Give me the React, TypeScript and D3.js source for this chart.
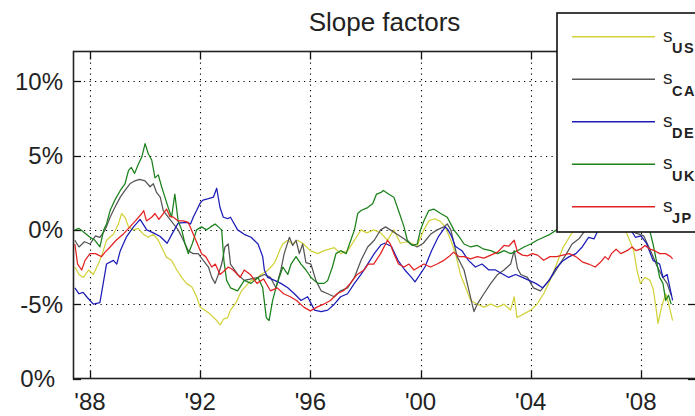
import React from "react";
import * as d3 from "d3";

const title = "Slope factors";
const xTicks = [1988, 1992, 1996, 2000, 2004, 2008];
const xTickLabels = ["'88", "'92", "'96", "'00", "'04", "'08"];
const yTicks = [10, 5, 0, -5, -10];
const yTickLabels = ["10%", "5%", "0%", "-5%", "0%"];
const xDomain = [1987.383, 2010];
const yDomain = [-10, 12];

const seriesNames = ["US", "CA", "DE", "UK", "JP"];
const seriesColors = ["#d2d23c", "#555555", "#1c1cb8", "#1a801a", "#e42222"];

const usData: [number, number][] = [
  [1987.45,-2.5],[1987.6,-3.0],[1987.76,-3.2],[1987.95,-2.7],[1988.12,-3.0],[1988.3,-2.3],[1988.45,-1.6],[1988.6,-0.7],[1988.85,-0.3],[1989.03,0.4],[1989.15,1.1],[1989.28,0.8],[1989.4,0.2],[1989.57,0],[1989.75,0.1],[1989.94,-0.3],[1990.12,-0.5],[1990.3,-0.3],[1990.48,-0.7],[1990.66,-1.4],[1990.78,-1.85],[1990.96,-2.05],[1991.15,-2.7],[1991.33,-3.2],[1991.5,-3.6],[1991.7,-3.85],[1991.87,-4.5],[1992.0,-5.2],[1992.17,-5.4],[1992.35,-5.65],[1992.6,-6.1],[1992.72,-6.4],[1992.85,-6.0],[1993.0,-5.9],[1993.1,-5.4],[1993.3,-4.9],[1993.5,-4.1],[1993.7,-3.7],[1993.85,-3.4],[1994.05,-3.3],[1994.2,-3.0],[1994.4,-2.8],[1994.57,-2.5],[1994.7,-2.2],[1994.8,-1.8],[1994.9,-1.3],[1995.0,-0.95],[1995.18,-0.7],[1995.35,-0.95],[1995.54,-0.7],[1995.75,-0.95],[1996.0,-1.4],[1996.27,-1.6],[1996.5,-1.4],[1996.87,-1.2],[1997.1,-1.6],[1997.36,-1.4],[1997.6,-0.7],[1997.84,0],[1998.05,-0.2],[1998.3,0],[1998.55,-0.2],[1998.8,-0.7],[1999.03,0],[1999.27,-0.9],[1999.5,-0.8],[1999.88,-1.05],[2000.12,0],[2000.3,0.6],[2000.5,0.75],[2000.7,0.6],[2000.9,0.2],[2001.1,-0.7],[2001.27,-1.6],[2001.45,-3.0],[2001.64,-3.9],[2001.82,-4.75],[2002.06,-5.0],[2002.3,-5.2],[2002.55,-5.0],[2002.8,-5.2],[2003.03,-5.0],[2003.27,-5.4],[2003.4,-4.5],[2003.5,-5.9],[2003.75,-5.65],[2004.0,-5.4],[2004.23,-5.0],[2004.47,-4.3],[2004.7,-3.4],[2004.94,-2.3],[2005.17,-1.2],[2005.4,-0.5],[2005.64,0.2],[2005.9,0.6],[2006.2,1.0],[2006.5,1.2],[2006.8,1.0],[2007.1,0.6],[2007.35,0.2],[2007.5,-0.3],[2007.74,-1.4],[2007.86,-2.75],[2007.98,-3.6],[2008.15,-3.2],[2008.33,-3.4],[2008.45,-4.0],[2008.56,-5.4],[2008.62,-6.3],[2008.75,-5.2],[2008.9,-4.3],[2009.0,-4.9],[2009.15,-6.1]
];

const caData: [number, number][] = [
  [1987.45,-0.7],[1987.6,-1.15],[1987.8,-0.8],[1988.0,-0.95],[1988.2,-0.4],[1988.36,-0.5],[1988.55,0],[1988.73,0.85],[1988.9,1.5],[1989.1,2.2],[1989.27,2.65],[1989.45,3.1],[1989.63,3.3],[1989.8,3.4],[1990.0,3.3],[1990.18,2.9],[1990.3,3.1],[1990.42,2.5],[1990.55,2.2],[1990.66,1.3],[1990.84,0.85],[1991.03,0.4],[1991.2,0],[1991.39,-0.7],[1991.57,-1.4],[1991.75,-1.6],[1991.93,-1.6],[1992.11,-2.05],[1992.3,-2.5],[1992.42,-3.2],[1992.54,-3.6],[1992.66,-3.0],[1992.78,-2.3],[1992.9,-1.15],[1993.02,-0.95],[1993.1,-2.3],[1993.36,-3.0],[1993.6,-3.4],[1993.85,-3.3],[1994.1,-3.2],[1994.33,-3.0],[1994.55,-3.2],[1994.75,-3.9],[1994.93,-2.7],[1995.05,-1.6],[1995.24,-0.5],[1995.36,-1.05],[1995.48,-0.7],[1995.6,-1.6],[1995.72,-0.95],[1995.84,-2.2],[1996.02,-2.3],[1996.2,-3.4],[1996.39,-4.1],[1996.63,-4.3],[1996.87,-4.5],[1997.1,-4.1],[1997.35,-3.9],[1997.6,-3.2],[1997.84,-2.05],[1998.08,-1.15],[1998.32,-0.7],[1998.55,0],[1998.73,0.2],[1998.9,0],[1999.15,-0.3],[1999.4,-0.6],[1999.64,-0.95],[1999.88,-1.15],[2000.1,-0.9],[2000.36,-0.3],[2000.6,0],[2000.85,0.2],[2000.97,0.4],[2001.1,0],[2001.33,-1.8],[2001.58,-2.7],[2001.76,-4.1],[2001.94,-5.5],[2002.06,-5.0],[2002.3,-4.3],[2002.55,-3.6],[2002.8,-3.0],[2003.03,-2.7],[2003.27,-2.3],[2003.4,-1.4],[2003.52,-2.6],[2003.64,-3.0],[2003.88,-3.2],[2004.1,-3.9],[2004.35,-4.1],[2004.58,-3.6],[2004.82,-3.0],[2005.05,-2.3],[2005.3,-1.6],[2005.5,-0.95],[2005.75,-0.6],[2005.95,-0.1],[2006.3,0.5],[2006.7,0.8],[2007.1,0.6],[2007.5,0.3],[2007.8,-0.2],[2008.1,-0.4],[2008.35,-1.4],[2008.6,-2.5],[2008.8,-3.2],[2008.95,-3.6],[2009.1,-4.4]
];

const deData: [number, number][] = [
  [1987.45,-3.9],[1987.6,-4.3],[1987.75,-4.2],[1987.88,-4.5],[1988.0,-4.75],[1988.12,-5.0],[1988.36,-4.9],[1988.48,-3.6],[1988.6,-2.3],[1988.85,-2.05],[1988.97,-2.3],[1989.1,-1.4],[1989.33,-0.45],[1989.58,0.2],[1989.82,0.7],[1990.06,0],[1990.3,-0.2],[1990.55,-0.45],[1990.8,-0.9],[1991.0,-0.2],[1991.2,0.45],[1991.5,0.5],[1991.65,0.4],[1991.76,0.9],[1991.87,1.3],[1992.0,1.8],[1992.1,2.0],[1992.3,2.1],[1992.48,2.2],[1992.6,2.8],[1992.72,1.5],[1992.84,0.85],[1993.0,0.75],[1993.1,0.85],[1993.36,0],[1993.6,-0.3],[1993.85,-0.5],[1994.1,-0.95],[1994.27,-1.8],[1994.33,-2.7],[1994.45,-3.2],[1994.7,-3.4],[1994.93,-3.6],[1995.18,-3.9],[1995.42,-4.3],[1995.66,-4.75],[1995.9,-4.5],[1996.15,-5.4],[1996.39,-5.5],[1996.63,-5.4],[1996.87,-5.0],[1997.1,-4.5],[1997.35,-4.3],[1997.6,-3.6],[1997.84,-3.0],[1998.08,-2.3],[1998.32,-1.6],[1998.57,-1.0],[1998.7,-0.9],[1998.94,-1.1],[1999.18,-2.05],[1999.43,-2.7],[1999.67,-3.2],[1999.8,-3.5],[2000.0,-2.95],[2000.16,-2.5],[2000.4,-1.4],[2000.65,-0.45],[2000.9,0.2],[2001.0,0],[2001.13,-0.45],[2001.26,-1.1],[2001.5,-1.4],[2001.74,-2.05],[2001.99,-2.5],[2002.23,-2.3],[2002.48,-2.7],[2002.72,-2.7],[2002.96,-2.95],[2003.2,-3.2],[2003.45,-3.0],[2003.7,-3.2],[2003.94,-3.4],[2004.18,-3.6],[2004.43,-3.9],[2004.67,-3.4],[2004.91,-2.6],[2005.16,-2.1],[2005.4,-1.8],[2005.64,-1.6],[2005.87,-1.15],[2006.1,-0.5],[2006.3,-0.6],[2006.5,0.2],[2006.9,0.8],[2007.3,0.6],[2007.6,0.1],[2007.8,-0.5],[2008.0,-0.4],[2008.2,-0.9],[2008.44,-2.05],[2008.68,-2.3],[2008.8,-3.2],[2008.95,-3.0],[2009.1,-4.3],[2009.15,-4.75]
];

const ukData: [number, number][] = [
  [1987.45,0],[1987.6,0.1],[1987.8,-0.2],[1988.0,-0.5],[1988.18,-0.7],[1988.36,-1.15],[1988.5,0],[1988.6,0.4],[1988.73,1.3],[1988.9,2.0],[1989.1,2.65],[1989.27,3.1],[1989.4,4.0],[1989.5,4.2],[1989.62,3.8],[1989.75,4.4],[1989.88,4.9],[1990.0,5.8],[1990.12,5.1],[1990.24,4.7],[1990.36,3.5],[1990.48,3.7],[1990.6,2.9],[1990.72,2.2],[1990.84,1.5],[1990.96,0.85],[1991.08,2.4],[1991.2,0.6],[1991.33,0],[1991.45,-0.95],[1991.57,-1.6],[1991.72,-0.9],[1991.87,0],[1992.05,0.2],[1992.23,0],[1992.38,0.2],[1992.54,0.4],[1992.66,0.2],[1992.78,0],[1992.86,-2.05],[1992.96,-3.4],[1993.1,-3.9],[1993.36,-4.1],[1993.6,-3.4],[1993.85,-3.6],[1994.1,-3.2],[1994.27,-3.9],[1994.4,-5.9],[1994.5,-6.1],[1994.63,-4.75],[1994.75,-3.9],[1994.87,-3.2],[1995.0,-2.5],[1995.18,-3.0],[1995.3,-2.3],[1995.48,-1.8],[1995.66,-2.3],[1995.84,-2.7],[1996.02,-3.2],[1996.27,-3.6],[1996.5,-3.6],[1996.63,-3.4],[1996.8,-2.5],[1996.93,-1.6],[1997.1,-1.4],[1997.3,-1.6],[1997.42,-0.95],[1997.6,0],[1997.72,1.1],[1997.84,1.3],[1998.08,1.5],[1998.26,1.75],[1998.4,2.4],[1998.55,2.5],[1998.65,2.65],[1998.85,2.4],[1999.03,2.2],[1999.2,1.3],[1999.4,0.2],[1999.52,-0.7],[1999.7,-1.05],[1999.88,-0.95],[2000.0,0],[2000.12,0.6],[2000.3,1.3],[2000.48,1.4],[2000.73,1.1],[2000.97,0.85],[2001.21,0],[2001.4,-0.45],[2001.58,-0.95],[2001.82,-1.15],[2002.06,-1.05],[2002.3,-1.3],[2002.55,-1.4],[2002.8,-1.6],[2003.03,-1.4],[2003.27,-1.6],[2003.52,-1.4],[2003.76,-1.15],[2004.0,-0.95],[2004.23,-0.7],[2004.47,-0.5],[2004.7,-0.3],[2004.94,0],[2005.2,0.3],[2005.6,0.8],[2006.0,1.2],[2006.5,1.5],[2007.0,1.3],[2007.5,0.8],[2008.0,0.4],[2008.3,0.1],[2008.44,-0.95],[2008.56,-2.05],[2008.68,-3.2],[2008.8,-3.6],[2008.9,-4.75],[2009.0,-4.4],[2009.1,-5.0]
];

const jpData: [number, number][] = [
  [1987.45,-0.95],[1987.55,-2.3],[1987.7,-2.7],[1987.82,-2.05],[1988.0,-1.6],[1988.2,-1.6],[1988.42,-1.8],[1988.55,-1.5],[1988.73,-1.15],[1988.95,-0.7],[1989.2,-0.3],[1989.45,0.2],[1989.65,0.6],[1989.88,1.1],[1989.95,1.3],[1990.05,0.6],[1990.24,0.85],[1990.36,1.1],[1990.5,0.7],[1990.66,1.1],[1990.78,1.4],[1990.9,0.9],[1991.03,0.85],[1991.2,0.6],[1991.39,0.6],[1991.57,0.5],[1991.75,-0.3],[1991.9,-0.95],[1992.05,-1.6],[1992.2,-1.8],[1992.42,-2.5],[1992.55,-2.3],[1992.72,-3.0],[1992.85,-2.8],[1993.02,-2.5],[1993.2,-2.7],[1993.45,-3.2],[1993.6,-2.7],[1993.82,-3.0],[1994.06,-3.6],[1994.3,-3.3],[1994.55,-4.1],[1994.8,-3.9],[1995.03,-4.3],[1995.27,-4.5],[1995.5,-4.75],[1995.76,-5.2],[1996.0,-5.45],[1996.24,-5.2],[1996.48,-5.0],[1996.73,-4.75],[1996.97,-4.3],[1997.2,-4.1],[1997.45,-3.6],[1997.7,-3.0],[1997.95,-2.7],[1998.1,-2.3],[1998.3,-2.3],[1998.55,-1.6],[1998.8,-0.7],[1998.9,-0.95],[1999.03,-1.6],[1999.2,-2.3],[1999.4,-2.5],[1999.58,-2.3],[1999.76,-2.7],[1999.94,-2.5],[2000.12,-2.3],[2000.36,-2.5],[2000.6,-2.3],[2000.85,-2.05],[2001.03,-1.8],[2001.2,-1.5],[2001.4,-1.8],[2001.58,-1.8],[2001.82,-1.95],[2002.06,-1.8],[2002.3,-1.9],[2002.55,-1.7],[2002.8,-1.5],[2003.03,-1.05],[2003.2,-1.1],[2003.4,-0.7],[2003.52,-1.5],[2003.7,-1.7],[2003.88,-1.75],[2004.06,-1.6],[2004.25,-1.7],[2004.47,-2.05],[2004.7,-1.8],[2004.94,-1.8],[2005.17,-1.7],[2005.4,-1.6],[2005.64,-1.8],[2005.87,-2.15],[2006.1,-2.3],[2006.34,-2.5],[2006.52,-2.2],[2006.7,-1.8],[2006.82,-2.0],[2006.93,-1.6],[2007.1,-1.3],[2007.27,-1.6],[2007.5,-1.4],[2007.68,-1.15],[2007.82,-1.4],[2007.98,-1.3],[2008.15,-1.05],[2008.33,-1.3],[2008.5,-1.4],[2008.68,-1.6],[2008.9,-1.6],[2009.08,-1.8],[2009.15,-1.95]
];

const seriesData = [usData, caData, deData, ukData, jpData];

const FONT = "'Liberation Sans', Arial, Helvetica, sans-serif";

export default function App() {
  const left = 73, right = 696, top = 51.5, bottom = 378.5;
  const x = d3.scaleLinear().domain(xDomain).range([left, right]);
  const y = d3.scaleLinear().domain(yDomain).range([bottom, top]);
  const line = d3
    .line<[number, number]>()
    .x((d) => x(d[0]))
    .y((d) => y(d[1]));

  const legX = 557, legY = 13, legH = 219;
  const rowY = (i: number) => 36.7 + i * 42.5;
  const tickLen = 8;

  return (
    <svg
      width={695}
      height={416}
      style={{ position: "absolute", left: 0, top: 0, background: "#fff" }}
      fontFamily={FONT}
    >
      <rect x={0} y={0} width={695} height={416} fill="#fff" />
      <defs>
        <clipPath id="plotClip">
          <rect x={left} y={top} width={right - left} height={bottom - top} />
        </clipPath>
      </defs>
      {/* grid */}
      <g stroke="#000" strokeWidth={1.1} strokeDasharray="1.2,4.3">
        {xTicks.map((t) => (
          <line key={"gx" + t} x1={Math.round(x(t)) + 0.5} x2={Math.round(x(t)) + 0.5} y1={top} y2={bottom} />
        ))}
        {yTicks.filter((v) => v > yDomain[0]).map((v) => (
          <line key={"gy" + v} x1={left} x2={right} y1={Math.round(y(v)) + 0.5} y2={Math.round(y(v)) + 0.5} />
        ))}
      </g>
      {/* ticks */}
      <g stroke="#111" strokeWidth={1.3}>
        {xTicks.map((t) => (
          <g key={"tx" + t}>
            <line x1={Math.round(x(t)) + 0.5} x2={Math.round(x(t)) + 0.5} y1={bottom} y2={bottom - tickLen} />
            <line x1={Math.round(x(t)) + 0.5} x2={Math.round(x(t)) + 0.5} y1={top} y2={top + tickLen} />
          </g>
        ))}
        {yTicks.map((v) => (
          <g key={"ty" + v}>
            <line x1={left} x2={left + tickLen} y1={Math.round(y(v)) + 0.5} y2={Math.round(y(v)) + 0.5} />
            <line x1={right} x2={right - tickLen} y1={Math.round(y(v)) + 0.5} y2={Math.round(y(v)) + 0.5} />
          </g>
        ))}
      </g>
      {/* series */}
      <g clipPath="url(#plotClip)" fill="none" strokeWidth={1.25} strokeLinejoin="round">
        {seriesData.map((d, i) => (
          <path key={seriesNames[i]} d={line(d) || ""} stroke={seriesColors[i]} />
        ))}
      </g>
      {/* axes box */}
      <rect x={left + 0.5} y={top} width={right - left} height={bottom - top} fill="none" stroke="#222" strokeWidth={1.6} />
      {/* tick labels */}
      <g fontSize={24} fill="#222">
        {yTicks.map((v, i) => (
          <text key={"ly" + i} x={i === yTicks.length - 1 ? 55 : 63} y={y(v) + 8.6} textAnchor="end">
            {yTickLabels[i]}
          </text>
        ))}
        {xTicks.map((t, i) => (
          <text key={"lx" + t} x={x(t)} y={410} textAnchor="middle">
            {xTickLabels[i]}
          </text>
        ))}
      </g>
      {/* title */}
      <text x={(left + right) / 2} y={31} fontSize={26} textAnchor="middle" fill="#222">
        {title}
      </text>
      {/* legend */}
      <g>
        <rect x={legX} y={legY} width={200} height={legH} fill="#fff" stroke="#111" strokeWidth={1.6} />
        {seriesNames.map((n, i) => (
          <g key={"lg" + n}>
            <line x1={572} x2={655} y1={rowY(i)} y2={rowY(i)} stroke={seriesColors[i]} strokeWidth={1.4} />
            <text x={663} y={rowY(i) + 5} fontSize={19} fill="#222">s</text>
            <text x={672} y={rowY(i) + 16.5} fontSize={14.5} fontWeight="bold" letterSpacing={1.5} fill="#222">
              {n}
            </text>
          </g>
        ))}
      </g>
    </svg>
  );
}
